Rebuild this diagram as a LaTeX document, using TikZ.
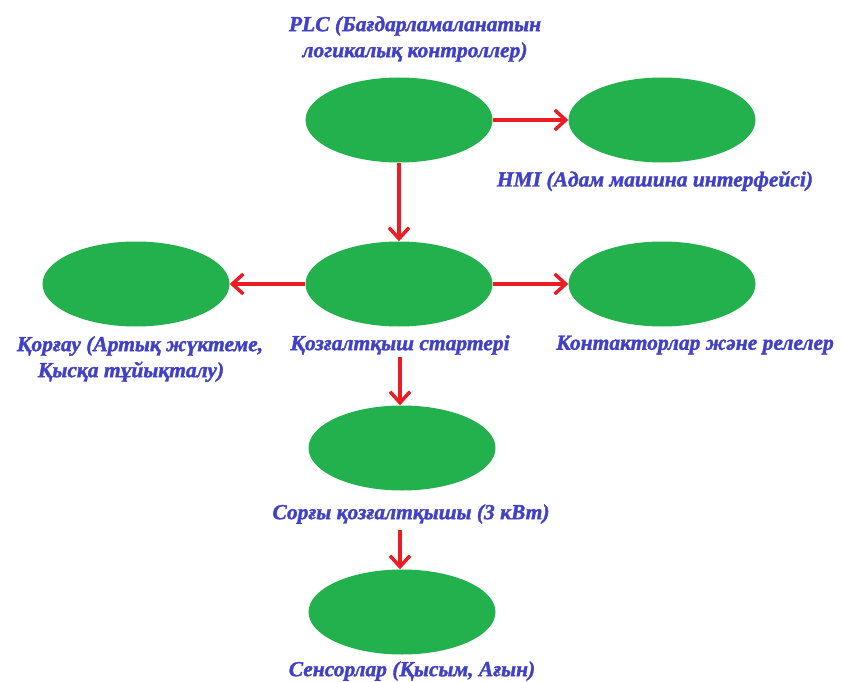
\documentclass[tikz,border=0pt]{standalone}
\usepackage{fontspec}
\setmainfont{Liberation Serif}
\newfontfamily\capfont{Liberation Serif}[UprightFont={* Bold Italic}, FakeBold=1.6]
\usetikzlibrary{arrows.meta,shapes.geometric}
\definecolor{blobgreen}{HTML}{22B14C}
\definecolor{linkred}{HTML}{ED1C24}
\definecolor{labelblue}{HTML}{4040C8}
\begin{document}
\begin{tikzpicture}[x=1pt,y=-1pt,
  blob/.style={ellipse, fill=blobgreen, minimum width=187pt, minimum height=85pt, inner sep=0pt},
  caption/.style={text=labelblue, font=\capfont\fontsize{21.5}{26}\selectfont, align=center, inner sep=0pt},
  link/.style={draw=linkred, line width=3.5pt, -{Straight Barb[length=11pt,width=20pt,line width=3.5pt]}}]
\useasboundingbox (0,0) rectangle (843,682);
% components
\node[blob] (plc) at (399,120) {};
\node[blob] (hmi) at (662,120) {};
\node[blob] (start) at (399,284) {};
\node[blob] (prot) at (136,284) {};
\node[blob] (cont) at (662,284) {};
\node[blob] (pump) at (402,448) {};
\node[blob] (sens) at (402,612) {};
% captions
\node[caption] (plcL) at (415,39) {PLC (Бағдарламаланатын\\ логикалық контроллер)};
\node[caption] (hmiL) at (655,181) {HMI (Адам машина интерфейсі)};
\node[caption] (protL) at (140,359) {Қорғау (Артық жүктеме,\\ \hspace*{-18pt}Қысқа тұйықталу)};
\node[caption] (startL) at (400,345) {Қозғалтқыш стартері};
\node[caption] (contL) at (695,345) {Контакторлар және релелер};
\node[caption] (pumpL) at (411,514) {Сорғы қозғалтқышы (3 кВт)};
\node[caption] (sensL) at (412,671) {Сенсорлар (Қысым, Ағын)};
% connections
\coordinate (s1) at (400,357);
\coordinate (s2) at (400,530);
\draw[link] (plc) -- (hmi);
\draw[link] (plc) -- (start);
\draw[link] (start) -- (prot);
\draw[link] (start) -- (cont);
\draw[link] (s1) -- (s1 |- pump.north);
\draw[link] (s2) -- (s2 |- sens.north);
\end{tikzpicture}
\end{document}
